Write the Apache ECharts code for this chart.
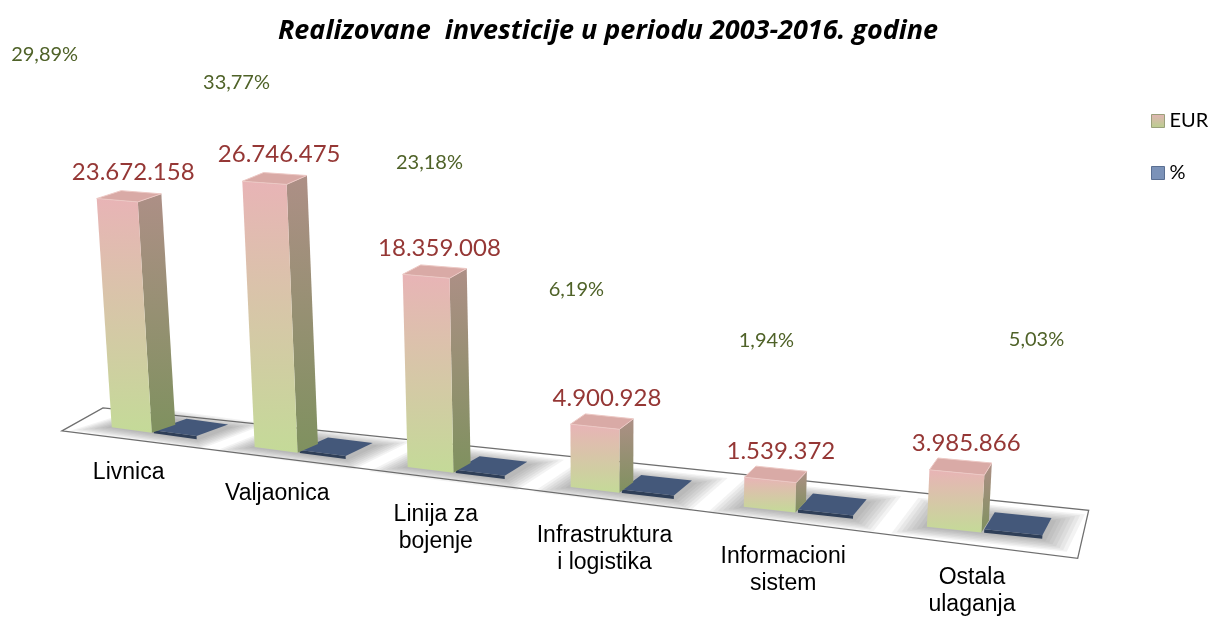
<!DOCTYPE html>
<html>
<head>
<meta charset="utf-8">
<title>Realizovane investicije</title>
<script src="https://cdn.jsdelivr.net/npm/echarts@6/dist/echarts.min.js"></script>
<style>
  html, body { margin: 0; padding: 0; background: #fff; }
  #chart { width: 1216px; height: 619px; }
</style>
</head>
<body>
<div id="chart"></div>
<script>
// podaci sa slike
const categories = ['Livnica', 'Valjaonica', 'Linija za\nbojenje', 'Infrastruktura\ni logistika', 'Informacioni\nsistem', 'Ostala\nulaganja']
const eurValues = [23672158, 26746475, 18359008, 4900928, 1539372, 3985866]
const pctValues = [29.89, 33.77, 23.18, 6.19, 1.94, 5.03]

// Excel je procente razbacao po slici - pomeraj labele od plavog kvadra
const pctLabelNudge = [[-142, -377], [-96, -369], [-59, -309], [-78, -201], [-64, -170], [20, -190]]

const Y_MIN = -1300000
const Y_MAX = 30000000
const FONT = 'Lato, "Open Sans", sans-serif'

// lazna 3D perspektiva (sve polazi od koordinata koje vrati osa)
function project(origin, x, d, hpx) {
  const u = x - origin[0]
  const s = 1 + 0.000251 * u
  const bx = x + 0.000259 * u * u
  const by = origin[1] + 0.143 * u
  const dx = 24 - 0.023 * u
  const dy = -8 - 0.0057 * u
  const h = hpx * s
  const lean = h * (bx - 600) * 0.000135
  return [bx + d * dx + lean, by + d * dy - h]
}

function fmtEur(v) {
  return String(v).replace(/\B(?=(\d{3})+(?!\d))/g, '.')
}
function fmtPct(v) {
  return v.toFixed(2).replace('.', ',') + '%'
}

function grad(a, b) {
  return new echarts.graphic.LinearGradient(0, 0, 0, 1, [
    { offset: 0, color: a },
    { offset: 1, color: b }
  ])
}

const chart = echarts.init(document.getElementById('chart'))

function renderFloor(params, api) {
  const origin = api.coord([0, Y_MIN])
  const pt = (u, drop) => {
    const p = project(origin, origin[0] + u, 0, 0)
    return [p[0], p[1] + drop]
  }
  const fl = pt(-71, 11)
  const fr = pt(786, 16)
  const bl = [fl[0] + 41, fl[1] - 23]
  const br = [fr[0] + 11, fr[1] - 48]
  return {
    type: 'polygon',
    z2: -10,
    shape: { points: [fl, bl, br, fr] },
    style: { fill: '#fff', stroke: '#6f6f6f', lineWidth: 1.3 }
  }
}

function renderEur(params, api) {
  const i = api.value(0)
  const v = api.value(1)
  const origin = api.coord([0, Y_MIN])
  const base = api.coord([i, Y_MIN])
  const top = api.coord([i, v])
  const hpx = base[1] - top[1]
  const c = base[0]
  const P = (x, d, h) => project(origin, x, d, h)

  const fbl = P(c - 20, 0, 0), fbr = P(c + 20, 0, 0)
  const ftl = P(c - 20, 0, hpx), ftr = P(c + 20, 0, hpx)
  const bbr = P(c + 20, 1, 0), btr = P(c + 20, 1, hpx), btl = P(c - 20, 1, hpx)

  const lab = P(c + 4, 0.5, hpx)
  const cat = P(c, 0, 0)
  const u = c - origin[0]

  return {
    type: 'group',
    children: [
      {
        type: 'polygon', z2: 20,
        shape: { points: [ftr, btr, bbr, fbr] },
        style: { fill: grad('#ad8f86', '#7f915f') }
      },
      {
        type: 'polygon', z2: 20,
        shape: { points: [fbl, ftl, ftr, fbr] },
        style: { fill: grad('#e8b4b6', '#c4da98') }
      },
      {
        type: 'polygon', z2: 21,
        shape: { points: [ftl, btl, btr, ftr] },
        style: { fill: '#d9aaa6', stroke: '#ecc8c4', lineWidth: 1 }
      },
      {
        type: 'text', z2: 30,
        x: lab[0], y: lab[1] - 12,
        style: {
          text: fmtEur(v), fill: '#953735', font: '24px ' + FONT,
          align: 'center', verticalAlign: 'bottom'
        }
      },
      {
        type: 'text', z2: 30,
        x: cat[0] + 0.03 * u - 3, y: cat[1] + 29 + 0.008 * u,
        style: {
          text: categories[i], fill: '#000', font: '23px "Liberation Sans", Arial, sans-serif',
          align: 'center', verticalAlign: 'top', lineHeight: 27
        }
      }
    ]
  }
}

function renderPct(params, api) {
  const i = api.value(0)
  const v = api.value(1)
  const origin = api.coord([0, Y_MIN])
  const base = api.coord([i, 0])
  const top = api.coord([i, v])
  const hpx = Math.max(base[1] - top[1], 3)
  const c = base[0]
  const P = (x, d, h) => project(origin, x, d, h)
  const depth = 1.4

  const fbl = P(c + 22, 0, 0), fbr = P(c + 64, 0, 0)
  const ftl = P(c + 22, 0, hpx), ftr = P(c + 64, 0, hpx)
  const btr = P(c + 64, depth, hpx), btl = P(c + 22, depth, hpx)
  const mid = P(c + 43, 0.5, 0)
  const n = pctLabelNudge[i]

  // meka senka ispod oba kvadra - nekoliko providnih slojeva
  const children = []
  for (let k = 7; k >= 1; k--) {
    const e = k * 3
    const ed = e / 26
    children.push({
      type: 'polygon', z2: 0,
      shape: { points: [P(c - 20 - e, -ed, 0), P(c + 64 + e, -ed, 0), P(c + 64 + e, depth + ed, 0), P(c - 20 - e, depth + ed, 0)] },
      style: { fill: 'rgba(90,90,90,0.075)' }
    })
  }

  children.push(
    {
      type: 'polygon', z2: 15,
      shape: { points: [fbl, ftl, ftr, fbr] },
      style: { fill: '#2f3f58' }
    },
    {
      type: 'polygon', z2: 16,
      shape: { points: [ftl, btl, btr, ftr] },
      style: { fill: '#44587a' }
    },
    {
      type: 'text', z2: 30,
      x: mid[0] + n[0], y: mid[1] + n[1],
      style: {
        text: fmtPct(v), fill: '#4f6228', font: '20px ' + FONT,
        align: 'center', verticalAlign: 'middle'
      }
    }
  )
  return { type: 'group', children: children }
}

const option = {
  animation: false,
  title: {
    text: 'Realizovane  investicije u periodu 2003-2016. godine',
    left: 'center',
    top: 13,
    textStyle: { fontSize: 27, fontWeight: 'bold', fontStyle: 'italic', fontFamily: '"Open Sans", Lato, sans-serif', color: '#000' }
  },
  legend: {
    orient: 'vertical',
    left: 1146,
    top: 106,
    itemGap: 32,
    itemWidth: 13,
    itemHeight: 13,
    textStyle: { fontSize: 20, fontFamily: FONT, color: '#000' },
    data: [
      { name: 'EUR', icon: 'rect', itemStyle: { color: grad('#e2b4b4', '#b9cf8e'), borderColor: '#9aa07a', borderWidth: 1 } },
      { name: '%', icon: 'rect', itemStyle: { color: '#7b92b8', borderColor: '#5a6f92', borderWidth: 1 } }
    ]
  },
  grid: { left: 62, top: 142, width: 836, height: 288 },
  xAxis: { type: 'category', data: categories, show: false },
  yAxis: { type: 'value', min: Y_MIN, max: Y_MAX, show: false },
  series: [
    {
      name: 'floor',
      type: 'custom',
      silent: true,
      clip: false,
      renderItem: renderFloor,
      data: [[0, 0]],
      z: 1
    },
    {
      name: '%',
      type: 'custom',
      clip: false,
      itemStyle: { color: '#7b92b8' },
      renderItem: renderPct,
      data: pctValues.map((v, i) => [i, v]),
      z: 2
    },
    {
      name: 'EUR',
      type: 'custom',
      clip: false,
      itemStyle: { color: '#d8c4a6' },
      renderItem: renderEur,
      data: eurValues.map((v, i) => [i, v]),
      z: 3
    }
  ]
}

chart.setOption(option)
</script>
</body>
</html>
